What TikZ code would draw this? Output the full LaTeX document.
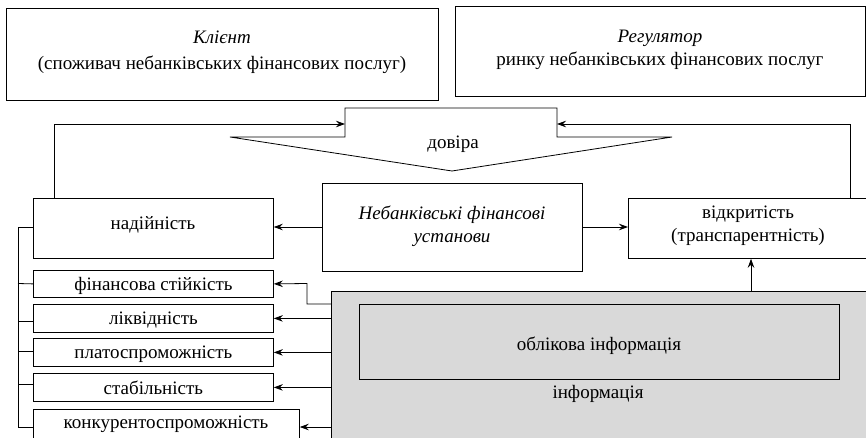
\documentclass[tikz,border=0pt]{standalone}
\usepackage{fontspec}
\setmainfont{Liberation Serif}
\newfontfamily\tnr{Liberation Serif}
\usetikzlibrary{arrows.meta}
\definecolor{infogray}{HTML}{D9D9D9}
\begin{document}
\begin{tikzpicture}[x=1pt,y=-1pt,line width=0.8pt,
  box/.style={draw,rectangle,inner sep=0pt,anchor=north west,text depth=0pt,font=\tnr\fontsize{19}{23}\selectfont},
  lbl/.style={font=\tnr\fontsize{19}{23}\selectfont,align=center,inner sep=0pt},
  arr/.style={-{Stealth[length=9pt,width=6.5pt,inset=3pt]}}]
\useasboundingbox (0,0) rectangle (866,438);
% top boxes
\node[box,minimum width=432pt,minimum height=92pt] (cli) at (6,8) {};
\node[lbl] (clit) at (222,52) {\textit{Клієнт}\\[3pt](споживач небанківських фінансових послуг)};
\node[box,minimum width=410pt,minimum height=90pt] (reg) at (455,6) {};
\node[lbl] (regt) at (660,50) {\textit{Регулятор}\\ринку небанківських фінансових послуг};
% trust arrow shape
\draw (345,108) -- (557,108) -- (557,137) -- (672,137) -- (452,171) -- (230,137) -- (345,137) -- cycle;
\coordinate (tl) at (345,124);
\coordinate (tr) at (557,124);
\node[lbl] (trust) at (453,144) {довіра};
% middle row
\node[box,minimum width=260pt,minimum height=88pt] (neb) at (322,183) {};
\node[lbl] (nebt) at (452,226) {\textit{Небанківські фінансові}\\\textit{установи}};
\node[box,minimum width=240pt,minimum height=60pt] (nad) at (33,198) {};
\node[lbl] (nadt) at (153,225) {надійність};
\node[box,minimum width=240pt,minimum height=60pt] (vid) at (628,198) {};
\node[lbl] (vidt) at (748,226) {відкритість\\(транспарентність)};
% info block
\node[box,fill=infogray,minimum width=540pt,minimum height=160pt] (info) at (331,291) {};
\node[box,minimum width=480pt,minimum height=75pt] (acc) at (359,304) {};
\node[lbl] (acct) at (599,346) {облікова інформація};
\node[lbl] (infot) at (598,394) {інформація};
% small boxes
\node[box,minimum width=240pt,minimum height=27pt] (fin) at (33,270) {фінансова стійкість};
\node[box,minimum width=240pt,minimum height=28pt] (liq) at (33,304) {ліквідність};
\node[box,minimum width=240pt,minimum height=28pt] (sol) at (33,338) {платоспроможність};
\node[box,minimum width=240pt,minimum height=28pt] (sta) at (33,373) {стабільність};
\node[box,minimum width=266pt,minimum height=40pt] (kon) at (33,409) {};
\node[lbl] (kont) at (166,424) {конкурентоспроможність};
% connectors
\draw[arr] (neb.west |- 0,227) -- (nad.east |- 0,227);
\draw[arr] (neb.east |- 0,227) -- (vid.west |- 0,227);
\draw[arr] (info.north -| 751,0) -- (vid.south -| 751,0);
\draw[arr] (vid.north -| 850,0) -- (850,124) -- (tr);
\draw[arr] (nad.north -| 54,0) -- (54,124) -- (tl);
\draw[arr] (info.west |- 0,304) -- (307,304) -- (307,283.5) -- (fin.east);
\draw[arr] (info.west |- liq.east) -- (liq.east);
\draw[arr] (info.west |- sol.east) -- (sol.east);
\draw[arr] (info.west |- sta.east) -- (sta.east);
\draw[arr] (info.west |- 0,427) -- (kon.east |- 0,427);
% left bracket
\draw (nad.west |- 0,227) -- (18,227) -- (18,427) -- (kon.west |- 0,427);
\draw (18,283.5) -- (fin.west);
\draw (18,321) -- (liq.west |- 0,321);
\draw (18,351) -- (sol.west |- 0,351);
\draw (18,384) -- (sta.west |- 0,384);
\end{tikzpicture}
\end{document}
